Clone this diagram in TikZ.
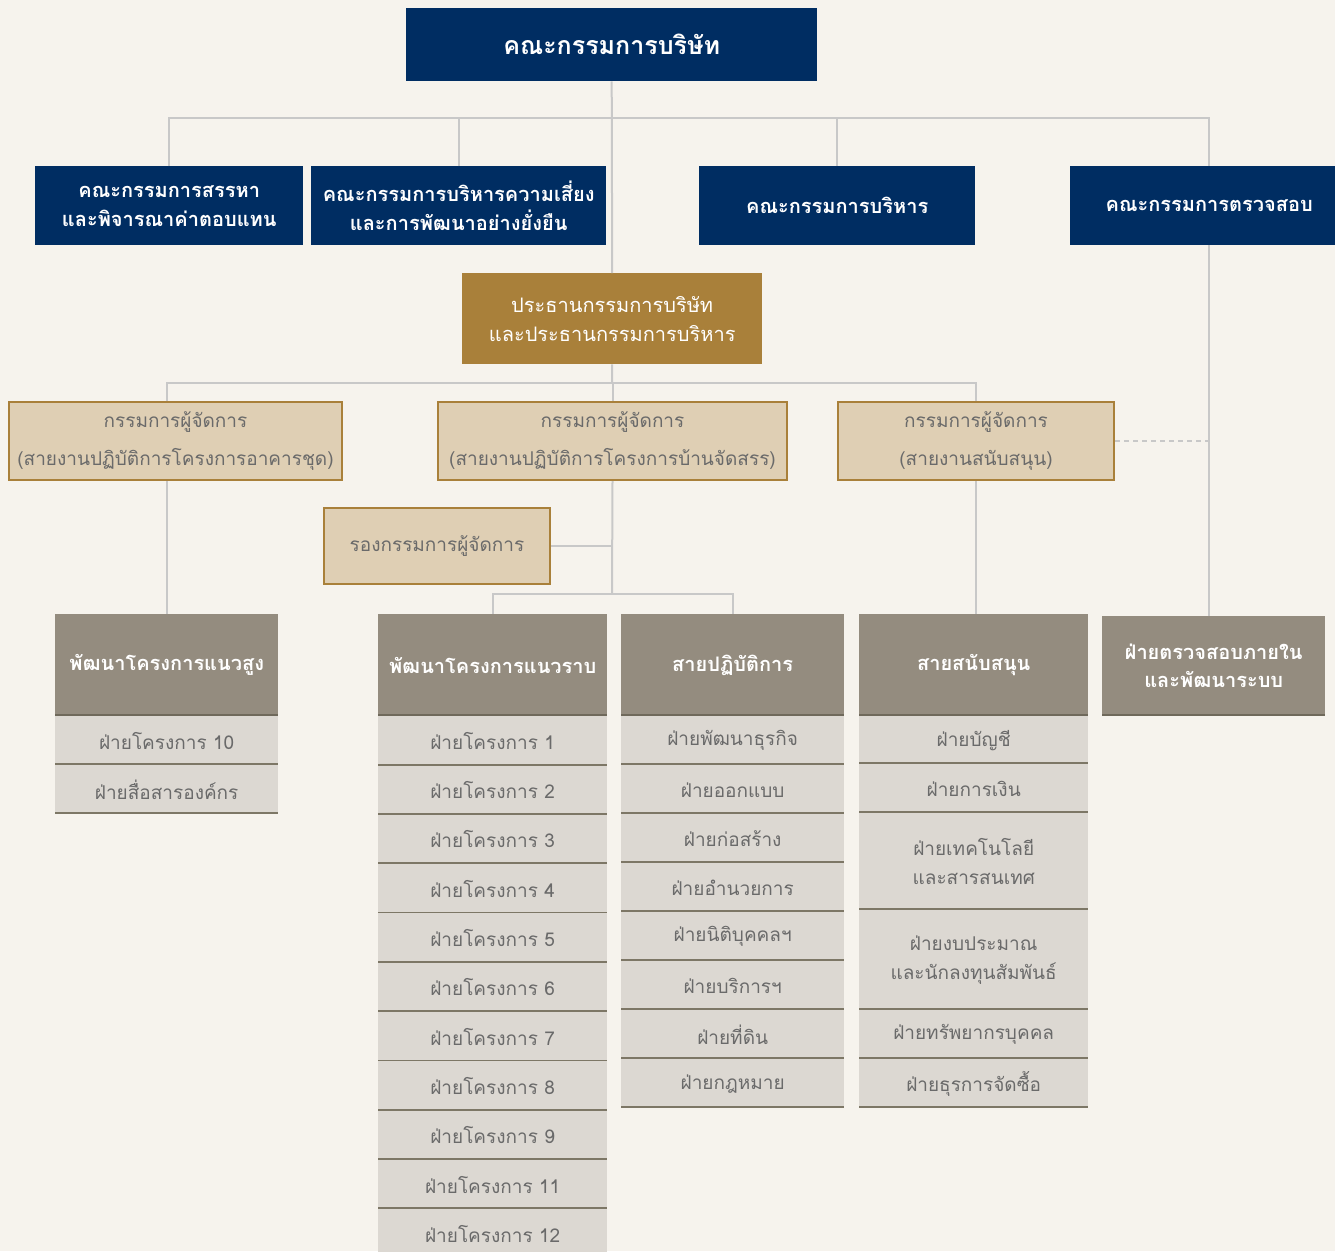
\documentclass[tikz,border=0pt]{standalone}
\usepackage{fontspec}
\setmainfont[Script=Thai]{Loma}
\usetikzlibrary{positioning}

\definecolor{pagebg}{HTML}{F6F3ED}
\definecolor{navy}{HTML}{002D62}
\definecolor{gold}{HTML}{A9803A}
\definecolor{tan}{HTML}{DFCFB4}
\definecolor{headgray}{HTML}{948C7F}
\definecolor{cellbg}{HTML}{DCD8D2}
\definecolor{sepcol}{HTML}{7D7766}
\definecolor{headsep}{HTML}{6F695B}
\definecolor{linegray}{HTML}{C8C8C8}
\definecolor{softtext}{HTML}{6A6A6A}

\tikzset{
  navybox/.style={fill=navy, text=white, font=\fontsize{20}{29}\selectfont\bfseries,
    align=center, inner sep=0pt, anchor=north west},
  goldbox/.style={fill=gold, text=white, font=\fontsize{20}{29}\selectfont,
    align=center, inner sep=0pt, anchor=north west},
  tanbox/.style={fill=tan, draw=gold, line width=2pt, text=softtext,
    font=\fontsize{19}{38}\selectfont, align=center, inner sep=0pt, anchor=north west},
  bottomline/.style={append after command={([yshift=1pt]\tikzlastnode.south west)
    edge[draw=#1, line width=2pt] ([yshift=1pt]\tikzlastnode.south east)}},
  headbox/.style={fill=headgray, text=white, font=\fontsize{20}{28}\selectfont\bfseries,
    align=center, inner sep=0pt, anchor=north west, minimum height=102, bottomline=headsep},
  cellbox/.style={fill=cellbg, text=softtext, font=\fontsize{19}{29}\selectfont,
    align=center, inner sep=0pt, anchor=north west, minimum height=49, bottomline=sepcol},
  conn/.style={draw=linegray, line width=2pt},
}

\begin{document}
\begin{tikzpicture}[x=1pt, y=-1pt]
  \fill[pagebg] (0,0) rectangle (1335,1251);
  \useasboundingbox (0,0) rectangle (1335,1251);

  % board and committees
  \node[navybox, font=\fontsize{25}{30}\selectfont\bfseries, minimum width=411, minimum height=73] (board) at (406,8) {คณะกรรมการบริษัท};
  \node[navybox, minimum width=268, minimum height=79] (nominate) at (35,166) {คณะกรรมการสรรหา\\และพิจารณาค่าตอบแทน};
  \node[navybox, minimum width=295, minimum height=79] (risk) at (311,166) {คณะกรรมการบริหารความเสี่ยง\\และการพัฒนาอย่างยั่งยืน};
  \node[navybox, minimum width=276, minimum height=79] (exec) at (699,166) {คณะกรรมการบริหาร};
  \node[navybox, minimum width=278, minimum height=79] (audit) at (1070,166) {คณะกรรมการตรวจสอบ};

  % chairman
  \node[goldbox, minimum width=300, minimum height=91] (chair) at (462,273) {ประธานกรรมการบริษัท\\และประธานกรรมการบริหาร};

  % managing directors
  \node[tanbox, minimum width=333, minimum height=78] (md1) at (8,401) {กรรมการผู้จัดการ\\(สายงานปฏิบัติการโครงการอาคารชุด)};
  \node[tanbox, minimum width=349, minimum height=78] (md2) at (437,401) {กรรมการผู้จัดการ\\(สายงานปฏิบัติการโครงการบ้านจัดสรร)};
  \node[tanbox, minimum width=276, minimum height=78] (md3) at (837,401) {กรรมการผู้จัดการ\\(สายงานสนับสนุน)};
  \node[tanbox, minimum width=226, minimum height=76] (deputy) at (323,507) {รองกรรมการผู้จัดการ};

  % column heads
  \node[headbox, minimum width=223] (col1) at (55,614) {พัฒนาโครงการแนวสูง};
  \node[headbox, minimum width=229] (col2) at (378,614) {พัฒนาโครงการแนวราบ};
  \node[headbox, minimum width=223] (col3) at (621,614) {สายปฏิบัติการ};
  \node[headbox, minimum width=229] (col4) at (859,614) {สายสนับสนุน};
  \node[headbox, minimum width=223, minimum height=100] (col5) at (1102,616) {ฝ่ายตรวจสอบภายใน\\และพัฒนาระบบ};

  % departments
  \node[cellbox, minimum width=223] (c1-1) at (55,716) {ฝ่ายโครงการ 10};
  \node[cellbox, minimum width=223] (c1-2) at (55,765) {ฝ่ายสื่อสารองค์กร};
  \foreach \t [count=\i] in {1,2,3,4,5,6,7,8,9,11,12}
    \node[cellbox, minimum width=229, minimum height=49.3] (c2-\i) at (378,{716+49.3*(\i-1)}) {ฝ่ายโครงการ \t};
  \foreach \t [count=\i] in {ฝ่ายพัฒนาธุรกิจ,ฝ่ายออกแบบ,ฝ่ายก่อสร้าง,ฝ่ายอำนวยการ,ฝ่ายนิติบุคคลฯ,ฝ่ายบริการฯ,ฝ่ายที่ดิน,ฝ่ายกฎหมาย}
    \node[cellbox, minimum width=223, minimum height=49] (c3-\i) at (621,{716+49*(\i-1)}) {\t};
  \node[cellbox, minimum width=229, minimum height=48] (c4-1) at (859,716) {ฝ่ายบัญชี};
  \node[cellbox, minimum width=229, minimum height=49] (c4-2) at (859,764) {ฝ่ายการเงิน};
  \node[cellbox, minimum width=229, minimum height=97] (c4-3) at (859,813) {ฝ่ายเทคโนโลยี\\และสารสนเทศ};
  \node[cellbox, minimum width=229, minimum height=100] (c4-4) at (859,910) {ฝ่ายงบประมาณ\\และนักลงทุนสัมพันธ์};
  \node[cellbox, minimum width=229, minimum height=49] (c4-5) at (859,1010) {ฝ่ายทรัพยากรบุคคล};
  \node[cellbox, minimum width=229, minimum height=49] (c4-6) at (859,1059) {ฝ่ายธุรการจัดซื้อ};

  % connectors
  \coordinate (bus1) at (612,118);
  \coordinate (mdbus) at (612,383);
  \coordinate (opbus) at (612,594);
  \draw[conn] (board.south) -- (chair.north);
  \draw[conn] (nominate.north) |- (bus1) -| (audit.north);
  \draw[conn] (risk.north) -- (risk.north |- bus1);
  \draw[conn] (exec.north) -- (exec.north |- bus1);
  \draw[conn] (chair.south) -- (mdbus);
  \draw[conn] (col1.north |- md1.north) |- (mdbus) -| (md3.north);
  \draw[conn] (col1.north |- md1.south) -- (col1.north);
  \draw[conn] (md2.north) -- (md2.north |- mdbus);
  \draw[conn] (md2.south) -- (opbus);
  \draw[conn] (col2.north) |- (opbus) -| (col3.north);
  \draw[conn] (deputy.east) -- (deputy.east -| opbus);
  \draw[conn] (md3.south) -- (md3.south |- col4.north);
  \draw[conn] (audit.south) -- (audit.south |- col5.north);
  \draw[conn, line width=1.5pt, dash pattern=on 5pt off 4pt] (md3.east) -- (md3.east -| audit.south);
\end{tikzpicture}
\end{document}
